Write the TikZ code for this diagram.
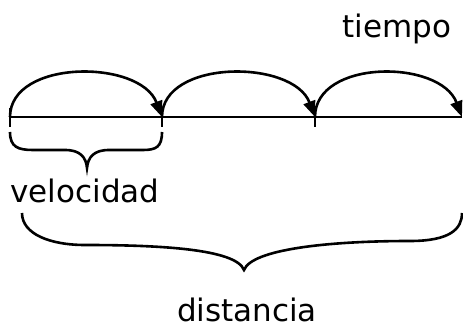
\documentclass[tikz,border=0pt]{standalone}
\usepackage{fontspec}
\setmainfont{DejaVu Sans}
\usetikzlibrary{arrows.meta}
\begin{document}
\begin{tikzpicture}[x=1pt,y=1pt,line width=2.6pt,
  hop/.style={-{Triangle[length=16pt,width=12pt]}},
  lbl/.style={font=\fontsize{31}{34}\selectfont,inner sep=0pt,anchor=base}]
\useasboundingbox (0,0) rectangle (463,329);
% points on the time axis
\coordinate (p0) at (10,212);
\coordinate (p1) at (162,212);
\coordinate (p2) at (315,212);
\coordinate (p3) at (462,212);
% axis and ticks
\draw (p0) -- (p3);
\draw (10,221) -- (10,202);
\draw (p1) -- ++(0,-10);
\draw (p2) -- ++(0,-10);
% hops along the axis
\draw[hop] (p0) .. controls +(0,58) and +(-22,58) .. (p1);
\draw[hop] (p1) .. controls +(0,58) and +(-22,58) .. (p2);
\draw[hop] (p2) .. controls +(0,58) and +(-22,58) .. (p3);
% labels
\node[lbl] (t) at (397,291) {tiempo};
\node[lbl] (v) at (85,126) {velocidad};
\node[lbl] (d) at (247,7) {distancia};
% brace under the first hop
\draw (10,197) .. controls (10,182) and (18,179) .. (33,179) -- (65,179)
  .. controls (80,179) and (86,172) .. (87,161)
  .. controls (88,172) and (94,179) .. (109,179) -- (143,179)
  .. controls (156,179) and (162,182) .. (162,197);
% brace under the whole axis
\draw (22,116) .. controls (22,95) and (50,84) .. (85,84)
  .. controls (160,84) and (236,80) .. (244,59)
  .. controls (252,80) and (330,88) .. (410,88)
  .. controls (450,88) and (462,100) .. (462,116);
\end{tikzpicture}
\end{document}
